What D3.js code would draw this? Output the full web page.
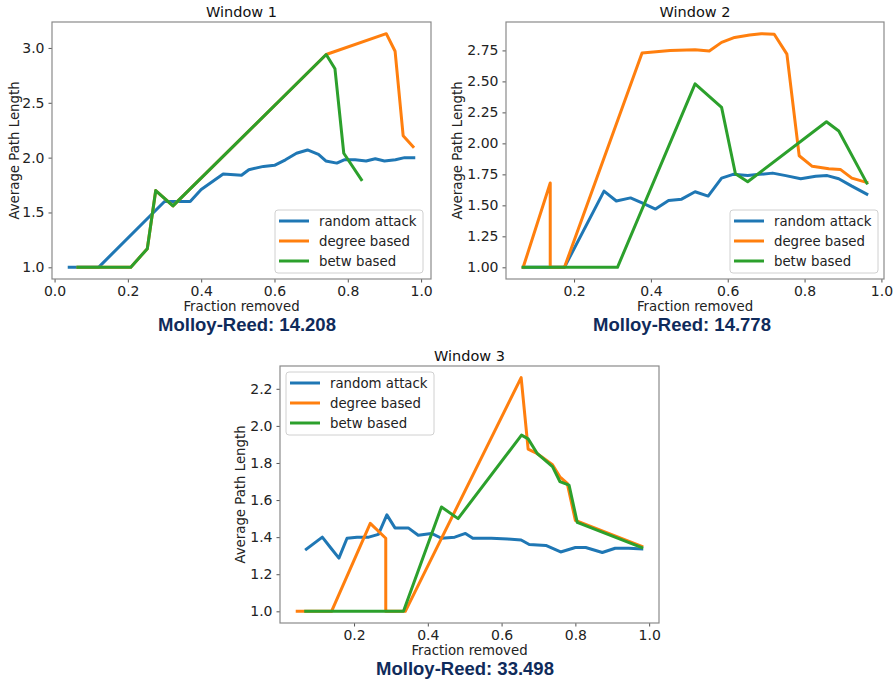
<!DOCTYPE html>
<html>
<head>
<meta charset="utf-8">
<script src="https://cdn.jsdelivr.net/npm/d3@7"></script>
<style>
  body { margin: 0; background: #fff; }
  svg { display: block; font-family: "DejaVu Sans", sans-serif; }
  .tick text { fill: #222; font-size: 14px; font-family: "DejaVu Sans", sans-serif; }
  .tick line { stroke: #555; }
</style>
</head>
<body>
<svg id="chart" width="894" height="683"></svg>
<script>
// series labels and colours (matplotlib tab10)
const seriesNames = ["random attack", "degree based", "betw based"];
const seriesColors = ["#1f77b4", "#ff7f0e", "#2ca02c"];

// Window 1 : [fraction removed, average path length]
const w1Random = [[0.04,1.0],[0.12,1.0],[0.30,1.6],[0.37,1.6],[0.40,1.71],[0.46,1.85],[0.51,1.84],[0.53,1.89],
  [0.57,1.92],[0.60,1.93],[0.63,1.98],[0.66,2.04],[0.69,2.07],[0.72,2.03],[0.74,1.97],[0.77,1.95],[0.79,1.98],
  [0.82,1.98],[0.85,1.97],[0.875,1.99],[0.90,1.97],[0.93,1.98],[0.955,2.0],[0.98,2.0]];
const w1Degree = [[0.064,1.0],[0.208,1.0],[0.253,1.17],[0.276,1.70],[0.323,1.56],[0.741,2.94],[0.905,3.13],
  [0.929,2.97],[0.951,2.2],[0.978,2.10]];
const w1Betw = [[0.064,1.0],[0.208,1.0],[0.253,1.17],[0.276,1.70],[0.323,1.56],[0.741,2.94],[0.765,2.81],
  [0.789,2.04],[0.837,1.80]];

// Window 2
const w2Random = [[0.0676,1.0],[0.175,1.0],[0.278,1.615],[0.31,1.535],[0.347,1.56],[0.377,1.52],[0.412,1.47],
  [0.446,1.54],[0.48,1.55],[0.515,1.61],[0.549,1.575],[0.584,1.72],[0.614,1.75],[0.652,1.74],[0.683,1.75],
  [0.717,1.76],[0.751,1.74],[0.79,1.715],[0.829,1.735],[0.859,1.74],[0.889,1.715],[0.923,1.655],[0.962,1.59]];
const w2Degree = [[0.0676,1.0],[0.138,1.68],[0.138,1.0],[0.175,1.0],[0.377,2.73],[0.45,2.75],[0.515,2.755],
  [0.552,2.745],[0.584,2.815],[0.618,2.855],[0.657,2.875],[0.687,2.885],[0.721,2.88],[0.754,2.72],[0.786,1.90],
  [0.82,1.815],[0.863,1.795],[0.893,1.79],[0.923,1.72],[0.962,1.685]];
const w2Betw = [[0.0676,1.0],[0.313,1.0],[0.515,2.48],[0.584,2.29],[0.62,1.755],[0.652,1.69],[0.857,2.175],
  [0.889,2.10],[0.962,1.68]];

// Window 3
const w3Random = [[0.0707,1.335],[0.114,1.40],[0.136,1.344],[0.159,1.287],[0.181,1.394],[0.208,1.40],[0.24,1.40],
  [0.266,1.415],[0.289,1.52],[0.311,1.45],[0.347,1.45],[0.374,1.41],[0.41,1.42],[0.437,1.394],[0.473,1.40],
  [0.502,1.42],[0.522,1.394],[0.572,1.394],[0.617,1.39],[0.653,1.385],[0.675,1.36],[0.72,1.355],[0.76,1.32],
  [0.80,1.344],[0.828,1.344],[0.873,1.317],[0.908,1.34],[0.944,1.34],[0.98,1.337]];
const w3Degree = [[0.046,1.0],[0.139,1.0],[0.244,1.474],[0.286,1.394],[0.286,1.0],[0.339,1.0],[0.653,2.26],
  [0.672,1.875],[0.697,1.85],[0.738,1.79],[0.758,1.725],[0.778,1.69],[0.80,1.49],[0.98,1.35]];
const w3Betw = [[0.069,1.0],[0.334,1.0],[0.437,1.563],[0.482,1.50],[0.654,1.95],[0.672,1.93],[0.697,1.85],
  [0.738,1.78],[0.758,1.70],[0.783,1.68],[0.805,1.48],[0.98,1.344]];

// tick values
const w1XTicks = [0.0, 0.2, 0.4, 0.6, 0.8, 1.0];
const w1YTicks = [1.0, 1.5, 2.0, 2.5, 3.0];
const w2XTicks = [0.2, 0.4, 0.6, 0.8, 1.0];
const w2YTicks = [1.0, 1.25, 1.5, 1.75, 2.0, 2.25, 2.5, 2.75];
const w3XTicks = [0.2, 0.4, 0.6, 0.8, 1.0];
const w3YTicks = [1.0, 1.2, 1.4, 1.6, 1.8, 2.0, 2.2];

const titles = ["Window 1", "Window 2", "Window 3"];
const molloyReed = [14.208, 14.778, 33.498];

const svg = d3.select("#chart");

// matplotlib style 5% margins around the data
function padded(ext) {
    const r = ext[1] - ext[0];
    return [ext[0] - 0.05 * r, ext[1] + 0.05 * r];
}

function drawPanel(p) {
    const all = p.series.flat();
    const x = d3.scaleLinear().domain(padded(d3.extent(all, d => d[0]))).range([p.left, p.right]);
    const y = d3.scaleLinear().domain(padded(d3.extent(all, d => d[1]))).range([p.bottom, p.top]);

    const g = svg.append("g");

    g.append("g")
        .attr("transform", `translate(0,${p.bottom})`)
        .call(d3.axisBottom(x).tickValues(p.xTicks).tickFormat(d3.format(".1f")).tickSize(3.5).tickPadding(4))
        .call(a => a.select(".domain").remove());

    g.append("g")
        .attr("transform", `translate(${p.left},0)`)
        .call(d3.axisLeft(y).tickValues(p.yTicks).tickFormat(d3.format(p.yFmt)).tickSize(3.5).tickPadding(4))
        .call(a => a.select(".domain").remove());

    const line = d3.line().x(d => x(d[0])).y(d => y(d[1]));

    p.series.forEach((s, i) => {
        g.append("path")
            .datum(s)
            .attr("d", line)
            .attr("fill", "none")
            .attr("stroke", seriesColors[i])
            .attr("stroke-width", 3)
            .attr("stroke-linejoin", "round")
            .attr("stroke-linecap", "square");
    });

    g.append("rect")
        .attr("x", p.left).attr("y", p.top)
        .attr("width", p.right - p.left).attr("height", p.bottom - p.top)
        .attr("fill", "none").attr("stroke", "#8a8a8a").attr("stroke-width", 1.2);

    const cx = (p.left + p.right) / 2;

    g.append("text")
        .attr("x", cx).attr("y", p.top - 5)
        .attr("text-anchor", "middle")
        .attr("font-size", "14.5px")
        .attr("fill", "#111")
        .text(p.title);

    g.append("text")
        .attr("x", cx).attr("y", p.bottom + 32)
        .attr("text-anchor", "middle")
        .attr("font-size", "13.3px")
        .attr("fill", "#222")
        .text("Fraction removed");

    g.append("text")
        .attr("transform", `translate(${p.ylabelX},${(p.top + p.bottom) / 2}) rotate(-90)`)
        .attr("text-anchor", "middle")
        .attr("dy", "0.35em")
        .attr("font-size", "13.3px")
        .attr("fill", "#222")
        .text("Average Path Length");

    g.append("text")
        .attr("x", p.mrX).attr("y", p.bottom + 52)
        .attr("text-anchor", "middle")
        .attr("font-family", "'Liberation Sans', Arial, sans-serif")
        .attr("font-weight", "bold")
        .attr("font-size", "18.5px")
        .attr("fill", "#0f2b5b")
        .text(`Molloy-Reed: ${p.mr}`);

    // legend
    const lg = g.append("g").attr("transform", `translate(${p.legend[0]},${p.legend[1]})`);
    lg.append("rect")
        .attr("width", 148).attr("height", 63).attr("rx", 3)
        .attr("fill", "#fff").attr("fill-opacity", 0.8)
        .attr("stroke", "#d0d0d0");
    seriesNames.forEach((name, i) => {
        const yy = 11 + i * 20;
        lg.append("line")
            .attr("x1", 4).attr("x2", 34).attr("y1", yy).attr("y2", yy)
            .attr("stroke", seriesColors[i]).attr("stroke-width", 3);
        lg.append("text")
            .attr("x", 44).attr("y", yy).attr("dy", "0.35em")
            .attr("font-size", "13.3px").attr("fill", "#222")
            .text(name);
    });
}

drawPanel({ left: 52, right: 431, top: 22, bottom: 279, series: [w1Random, w1Degree, w1Betw],
    xTicks: w1XTicks, yTicks: w1YTicks, yFmt: ".1f", title: titles[0], mr: molloyReed[0],
    ylabelX: 14, mrX: 247, legend: [275, 210] });
drawPanel({ left: 506, right: 884, top: 22, bottom: 279, series: [w2Random, w2Degree, w2Betw],
    xTicks: w2XTicks, yTicks: w2YTicks, yFmt: ".2f", title: titles[1], mr: molloyReed[1],
    ylabelX: 457, mrX: 682, legend: [730, 210] });
drawPanel({ left: 280, right: 659, top: 366, bottom: 623, series: [w3Random, w3Degree, w3Betw],
    xTicks: w3XTicks, yTicks: w3YTicks, yFmt: ".1f", title: titles[2], mr: molloyReed[2],
    ylabelX: 240, mrX: 465, legend: [286, 372] });
</script>
</body>
</html>
